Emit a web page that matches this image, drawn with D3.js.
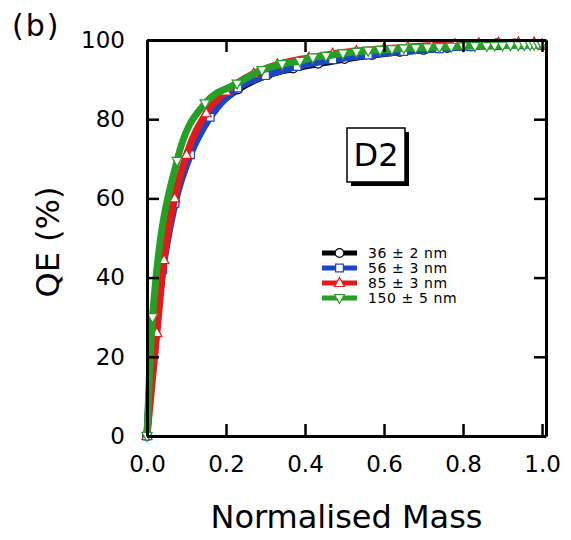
<!DOCTYPE html>
<html>
<head>
<meta charset="utf-8">
<script src="https://cdn.jsdelivr.net/npm/d3@7"></script>
<style>
  body { margin: 0; background: #fff; }
  svg { display: block; font-family: "DejaVu Sans", sans-serif; }
</style>
</head>
<body>
<div id="chart"></div>
<script>
// data
const massBlack = [0, 0.015, 0.045, 0.08, 0.12, 0.17, 0.23, 0.306, 0.37, 0.433, 0.5, 0.57, 0.64, 0.7, 0.76, 0.82, 0.886, 0.93, 0.97, 1.0];
const qeBlack   = [0, 26, 48, 64, 75, 82.5, 87.5, 91.2, 92.8, 94, 95.2, 96.2, 97, 97.5, 98, 98.4, 99.2, 99.1, 99, 98.9];

const massBlue = [0, 0.015, 0.04, 0.071, 0.11, 0.16, 0.23, 0.3, 0.38, 0.47, 0.56, 0.65, 0.74, 0.82, 0.89, 0.95, 1.0];
const qeBlue   = [0, 22, 42, 58.8, 71, 80.5, 87.9, 91, 93.3, 95, 96.2, 97.1, 97.8, 98.3, 98.6, 98.8, 98.6];

const massRed = [0, 0.025, 0.043, 0.07, 0.1, 0.15, 0.2, 0.27, 0.33, 0.41, 0.47, 0.53, 0.6, 0.66, 0.72, 0.78, 0.84, 0.89, 0.94, 0.98, 1.0];
const qeRed   = [0, 26, 44.4, 60, 71, 81.5, 87, 91.5, 93.8, 95.5, 96.5, 97.2, 97.8, 98.2, 98.6, 98.9, 99.2, 99.3, 99.4, 99.4, 98.9];

const massGreen = [0, 0.014, 0.076, 0.147, 0.228, 0.291, 0.342, 0.387, 0.42, 0.453, 0.496, 0.53, 0.56, 0.59, 0.62, 0.65, 0.68, 0.71, 0.74, 0.77, 0.8, 0.83, 0.86, 0.88, 0.9, 0.92, 0.94, 0.955, 0.97, 0.98, 0.99, 1.0];
const qeGreen   = [0, 30, 69.5, 84, 89, 92.4, 93.9, 94.7, 95.6, 96, 96.6, 97, 97.3, 97.5, 97.7, 97.9, 98, 98.1, 98.2, 98.3, 98.4, 98.5, 98.5, 98.6, 98.6, 98.7, 98.7, 98.8, 98.8, 98.8, 98.9, 98.9];

const seriesNames = ["36 ± 2 nm", "56 ± 3 nm", "85 ± 3 nm", "150 ± 5 nm"];
const xTicks = [0, 0.2, 0.4, 0.6, 0.8, 1.0];
const yTicks = [0, 20, 40, 60, 80, 100];

const series = [
  { name: seriesNames[0], xs: massBlack, ys: qeBlack, color: "#000000", shape: "circle" },
  { name: seriesNames[1], xs: massBlue, ys: qeBlue, color: "#1c46c8", shape: "square" },
  { name: seriesNames[2], xs: massRed, ys: qeRed, color: "#e3191c", shape: "up" },
  { name: seriesNames[3], xs: massGreen, ys: qeGreen, color: "#24a024", shape: "down" }
];

const W = 571, H = 540;
const mLeft = 147, mRight = 546, mTop = 40, mBottom = 436;

const svg = d3.select("#chart").append("svg")
  .attr("width", W)
  .attr("height", H);

const x = d3.scaleLinear().domain([0, 1.01]).range([mLeft, mRight]);
const y = d3.scaleLinear().domain([0, 100]).range([mBottom, mTop]);

function markerPath(shape) {
  if (shape === "circle") return d3.symbol(d3.symbolCircle, 60)();
  if (shape === "square") return d3.symbol(d3.symbolSquare, 60)();
  if (shape === "up") return "M0,-5.5L5,3.5L-5,3.5Z";
  return "M0,5.5L5,-3.5L-5,-3.5Z";
}

const line = d3.line()
  .x(d => x(d[0]))
  .y(d => y(d[1]))
  .curve(d3.curveMonotoneX);

series.forEach(s => {
  const pts = s.xs.map((v, i) => [v, s.ys[i]]);
  svg.append("path")
    .datum(pts)
    .attr("d", line)
    .attr("fill", "none")
    .attr("stroke", s.color)
    .attr("stroke-width", 7)
    .attr("stroke-linejoin", "round");
  svg.append("g").selectAll("path")
    .data(pts)
    .join("path")
    .attr("d", markerPath(s.shape))
    .attr("transform", d => `translate(${x(d[0])},${y(d[1])})`)
    .attr("fill", "#fff")
    .attr("stroke", s.color)
    .attr("stroke-width", 1.2);
});

// axes, ticks inward on all four sides
function styleAxis(g) {
  g.select(".domain").attr("stroke", "#000").attr("stroke-width", 3);
  g.selectAll(".tick line").attr("stroke", "#000").attr("stroke-width", 2.5);
}

svg.append("g")
  .attr("transform", `translate(0,${mBottom})`)
  .call(d3.axisBottom(x).tickValues(xTicks).tickFormat(d3.format(".1f")).tickSizeInner(-12).tickSizeOuter(0).tickPadding(20))
  .call(styleAxis)
  .call(g => g.selectAll("text").attr("font-size", 23).attr("fill", "#000").attr("font-family", "DejaVu Sans"));

svg.append("g")
  .attr("transform", `translate(${mLeft},0)`)
  .call(d3.axisLeft(y).tickValues(yTicks).tickSizeInner(-12).tickSizeOuter(0).tickPadding(22))
  .call(styleAxis)
  .call(g => g.selectAll("text").attr("font-size", 23).attr("fill", "#000").attr("font-family", "DejaVu Sans"));

svg.append("g")
  .attr("transform", `translate(0,${mTop})`)
  .call(d3.axisTop(x).tickValues(xTicks).tickFormat("").tickSizeInner(-12).tickSizeOuter(0))
  .call(styleAxis);

svg.append("g")
  .attr("transform", `translate(${mRight},0)`)
  .call(d3.axisRight(y).tickValues(yTicks).tickFormat("").tickSizeInner(-12).tickSizeOuter(0))
  .call(styleAxis);

// axis titles
svg.append("text")
  .attr("x", (mLeft + mRight) / 2)
  .attr("y", 528)
  .attr("text-anchor", "middle")
  .attr("font-size", 32)
  .text("Normalised Mass");

svg.append("text")
  .attr("transform", `translate(59,${(mTop + mBottom) / 2 + 4}) rotate(-90)`)
  .attr("text-anchor", "middle")
  .attr("font-size", 32)
  .text("QE (%)");

svg.append("text")
  .attr("x", 12)
  .attr("y", 36)
  .attr("font-size", 30)
  .attr("letter-spacing", 2)
  .text("(b)");

// D2 label box with drop shadow
svg.append("rect")
  .attr("x", 351).attr("y", 132).attr("width", 58).attr("height", 54)
  .attr("fill", "#000");
svg.append("rect")
  .attr("x", 347).attr("y", 128).attr("width", 58).attr("height", 54)
  .attr("fill", "#fff").attr("stroke", "#000").attr("stroke-width", 1.5);
svg.append("text")
  .attr("x", 376).attr("y", 166)
  .attr("text-anchor", "middle")
  .attr("font-size", 32)
  .text("D2");

// legend
const legend = svg.append("g").attr("transform", "translate(322,253)");
series.forEach((s, i) => {
  const row = legend.append("g").attr("transform", `translate(0,${i * 15})`);
  row.append("line")
    .attr("x1", 0).attr("x2", 35)
    .attr("stroke", s.color).attr("stroke-width", 5);
  row.append("path")
    .attr("d", markerPath(s.shape))
    .attr("transform", "translate(17.5,0)")
    .attr("fill", "#fff").attr("stroke", s.color).attr("stroke-width", 1.2);
  row.append("text")
    .attr("x", 46).attr("y", 5)
    .attr("font-size", 14)
    .attr("letter-spacing", 0.6)
    .text(s.name);
});
</script>
</body>
</html>
